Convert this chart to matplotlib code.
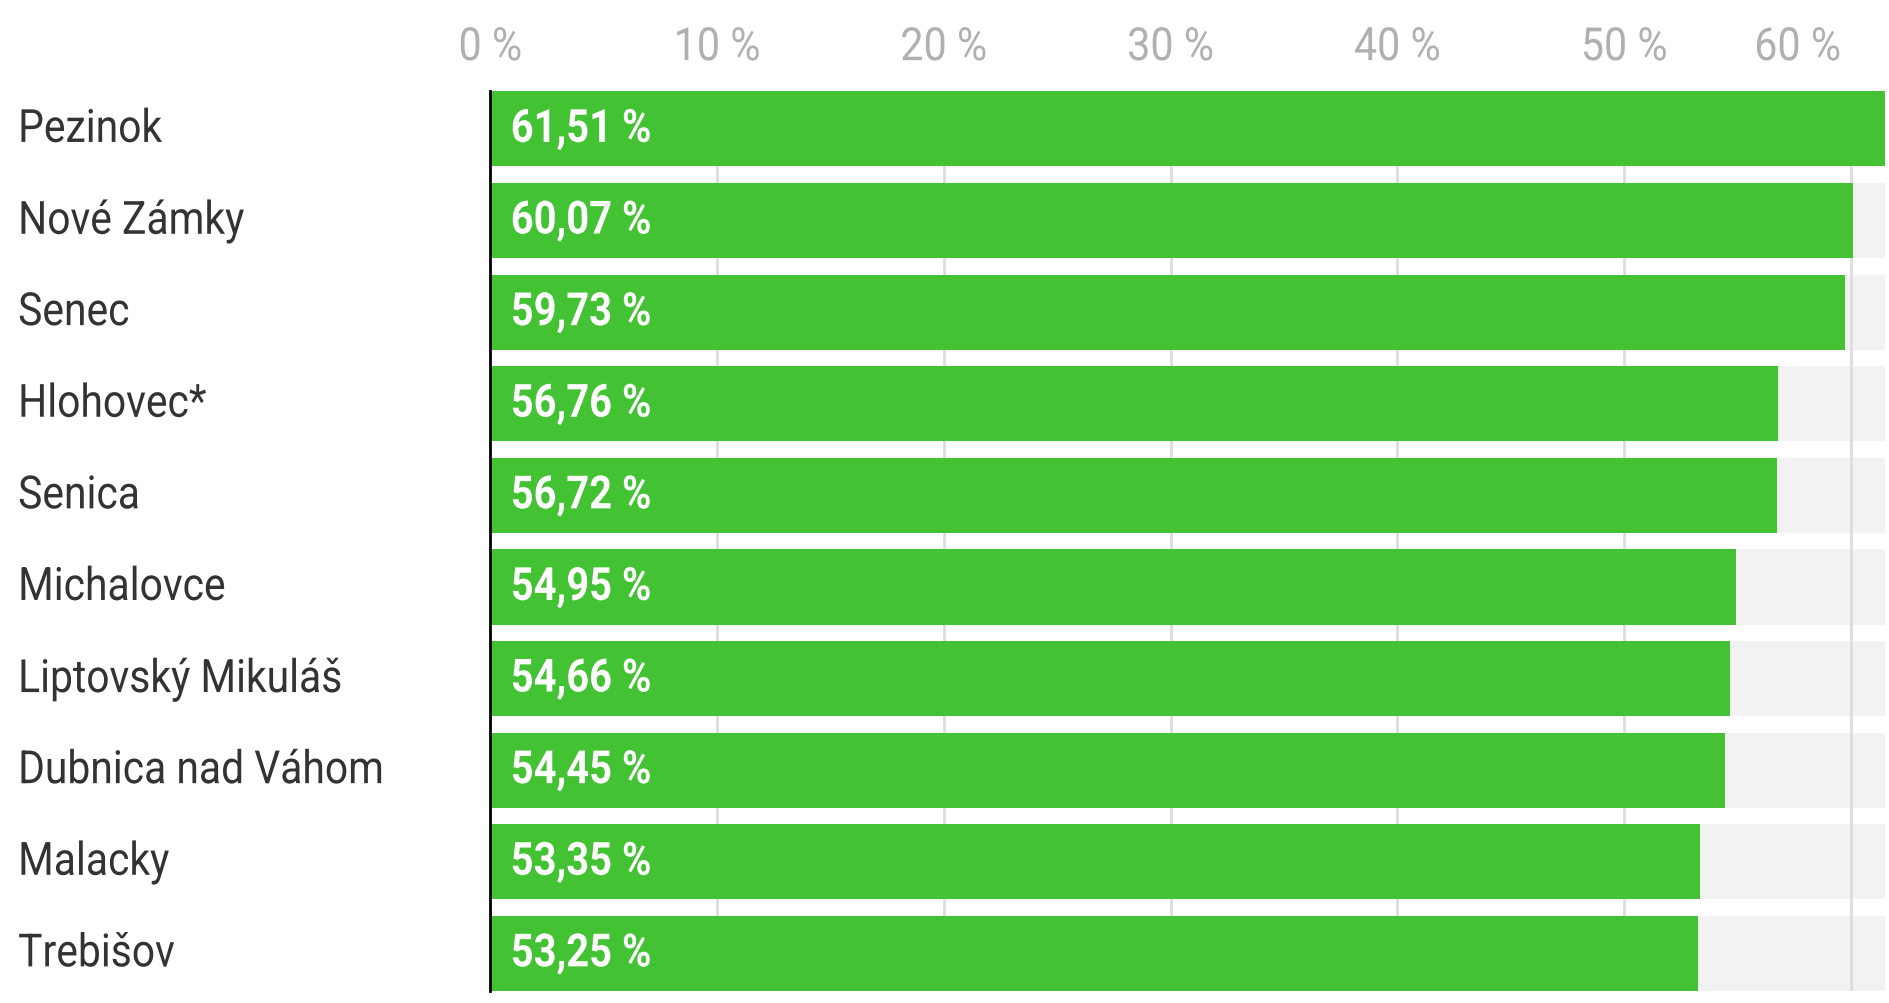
import matplotlib.pyplot as plt
from matplotlib.patheffects import AbstractPathEffect
from matplotlib.transforms import Affine2D

# data
mesta = ["Pezinok", "Nové Zámky", "Senec", "Hlohovec*", "Senica", "Michalovce",
         "Liptovský Mikuláš", "Dubnica nad Váhom", "Malacky", "Trebišov"]
hodnoty = [61.51, 60.07, 59.73, 56.76, 56.72, 54.95, 54.66, 54.45, 53.35, 53.25]
ticky = [0, 10, 20, 30, 40, 50, 60]

plt.rcParams['font.family'] = ['Roboto', 'DejaVu Sans']


class Uzke(AbstractPathEffect):
    """squeeze text horizontally, the reference font is a condensed one"""
    def __init__(self, s=0.88, center=False):
        super().__init__()
        self.s = s
        self.center = center

    def draw_path(self, renderer, gc, tpath, affine, rgbFace=None):
        cx = 0
        if self.center:
            ext = tpath.get_extents()
            cx = (ext.x0 + ext.x1) / 2
        t = Affine2D().translate(-cx, 0).scale(self.s, 1).translate(cx, 0)
        renderer.draw_path(gc, tpath, t + affine, rgbFace)


zelena = '#43c234'
maximum = max(hodnoty)
y = list(range(len(mesta)))

fig = plt.figure(figsize=(18.89, 10.04), dpi=100)
ax = fig.add_axes([0.2596, 0.012, 0.998 - 0.2596, 0.908 - 0.012])

# grey tracks, gridlines, green bars
ax.barh(y, [maximum] * len(mesta), height=0.82, color='#f2f2f2', zorder=1)
for t in ticky[1:]:
    ax.axvline(t, color='#dddddd', lw=2, zorder=2)
ax.barh(y, hodnoty, height=0.82, color=zelena, zorder=3)

for yi, v in zip(y, hodnoty):
    ax.text(0.9, yi, f"{v:.2f} %".replace('.', ','), color='white',
            fontsize=33, fontweight='bold', va='center', ha='left', zorder=4,
            path_effects=[Uzke(0.87)])

ax.set_xlim(0, maximum)
ax.set_ylim(len(mesta) - 1 + 0.41, -0.41)

ax.set_yticks([])
for yi, m in zip(y, mesta):
    ax.annotate(m, xy=(0.0096, yi), xycoords=('figure fraction', 'data'),
                fontsize=33, color='#333333', va='center', ha='left',
                path_effects=[Uzke(0.89)])

ax.xaxis.tick_top()
ax.set_xticks(ticky)
ax.set_xticklabels([f"{t} %" for t in ticky], fontsize=33, color='#b0b0b0')
ax.tick_params(axis='x', length=0, pad=16)
lab = ax.get_xticklabels()
for l in lab:
    l.set_path_effects([Uzke(0.9, center=True)])
lab[-1].set_horizontalalignment('right')
lab[-1].set_path_effects([Uzke(0.9)])

for s in ['top', 'right', 'bottom']:
    ax.spines[s].set_visible(False)
ax.spines['left'].set_color('black')
ax.spines['left'].set_linewidth(2)
ax.spines['left'].set_zorder(5)

fig.savefig('out.png', dpi=100)
